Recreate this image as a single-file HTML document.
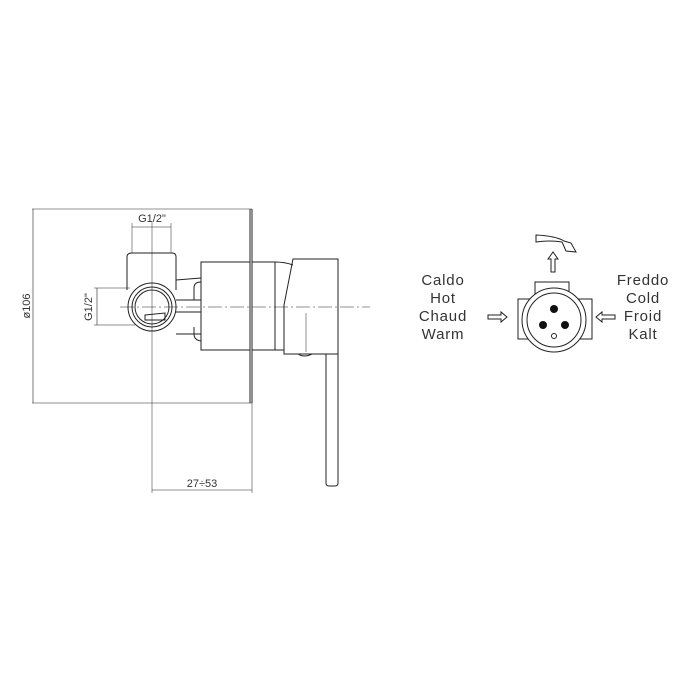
<!DOCTYPE html>
<html><head><style>
html,body{margin:0;padding:0;background:#fff;width:700px;height:700px;overflow:hidden}
svg text{font-family:"Liberation Sans",sans-serif;fill:#333}
</style></head><body>
<svg width="700" height="700" viewBox="0 0 700 700" xmlns="http://www.w3.org/2000/svg">
<g fill="none" stroke="#222" stroke-width="1">
<line x1="32" y1="209" x2="252" y2="209" stroke-width="0.6"/>
<line x1="32" y1="403" x2="252" y2="403" stroke-width="0.6"/>
<line x1="250" y1="209" x2="250" y2="403"/>
<line x1="252" y1="209" x2="252" y2="403"/>
<line x1="33" y1="209" x2="33" y2="403" stroke-width="0.6"/>
<line x1="120" y1="307" x2="370" y2="307" stroke-width="0.5" stroke-dasharray="14,3,2,3"/>
<line x1="152" y1="222" x2="152" y2="493" stroke-width="0.5"/>
<path d="M127,290 L127,257 Q127,253 132,253 L172,253 Q176,253 176,257 L176,290"/>
<line x1="132" y1="253" x2="171" y2="253"/>
<circle cx="152" cy="307" r="24"/>
<circle cx="152" cy="307" r="20"/>
<circle cx="152" cy="307" r="17"/>
<path d="M145,315 L165,313 L165,320 L145,320 Z"/>
<path d="M176,280 L201,278 M176,334 L201,334"/>
<path d="M201,282 Q194,282 194,288 L194,300 M194,327 L194,334 Q194,340 201,341"/>
<line x1="176" y1="300" x2="201" y2="300"/>
<line x1="176" y1="312" x2="201" y2="312"/>
<rect x="201" y="262" width="49" height="88"/>
<path d="M252,262 L275,262 Q285,262 293,265 M252,350 L284,350"/>
<line x1="275" y1="262" x2="275" y2="350"/>
<path d="M293,259 L338,259 L338,354 L284,354 L284,305 Z"/>
<line x1="306" y1="313" x2="306" y2="352" stroke-width="0.5"/>
<path d="M298,354 Q304,358 312,354"/>
<path d="M326,354 L326,483 Q326,486 329,486 L335,486 Q338,486 338,483 L338,354"/>
<line x1="132" y1="227" x2="171" y2="227" stroke-width="0.6"/>
<line x1="132" y1="223" x2="132" y2="253" stroke-width="0.5"/>
<line x1="171" y1="223" x2="171" y2="253" stroke-width="0.5"/>
<line x1="97" y1="288" x2="97" y2="325" stroke-width="0.6"/>
<line x1="94" y1="288" x2="130" y2="288" stroke-width="0.5"/>
<line x1="94" y1="325" x2="135" y2="325" stroke-width="0.5"/>
<line x1="152" y1="490" x2="252" y2="490" stroke-width="0.6"/>
<line x1="252" y1="403" x2="252" y2="493" stroke-width="0.5"/>
</g>
<text x="152" y="222" font-size="11" text-anchor="middle">G1/2"</text>
<text transform="translate(92,307) rotate(-90)" font-size="11" text-anchor="middle">G1/2"</text>
<text transform="translate(30,306) rotate(-90)" font-size="11" text-anchor="middle">ø106</text>
<text x="202" y="487" font-size="11" text-anchor="middle">27÷53</text>
<g fill="none" stroke="#222" stroke-width="1">
<rect x="518" y="299" width="74" height="40"/>
<rect x="535" y="282" width="34" height="18"/>
<circle cx="554" cy="320" r="32" fill="#fff"/>
<circle cx="554" cy="320" r="27"/>
<circle cx="554" cy="336" r="2.5"/>
<path d="M488,315 L501,315 L501,312 L507,317 L501,322 L501,319 L488,319 Z"/>
<path d="M615,315 L602,315 L602,312 L596,317 L602,322 L602,319 L615,319 Z"/>
<path d="M551,272 L551,259 L548,259 L553,252 L558,259 L555,259 L555,272 Z"/>
<path d="M536,235 L536,242 Q550,240 562,242 L566,251 L576,252 L571,243 L564,241 Q556,236 536,235 Z"/>
</g>
<g fill="#111"><circle cx="554" cy="309" r="4"/><circle cx="543" cy="325" r="4"/><circle cx="565" cy="325" r="4"/></g>
<g font-size="15" text-anchor="middle" letter-spacing="0.8">
<text x="443" y="285">Caldo</text><text x="443" y="303">Hot</text><text x="443" y="321">Chaud</text><text x="443" y="339">Warm</text>
<text x="643" y="285">Freddo</text><text x="643" y="303">Cold</text><text x="643" y="321">Froid</text><text x="643" y="339">Kalt</text>
</g>
</svg>
</body></html>
